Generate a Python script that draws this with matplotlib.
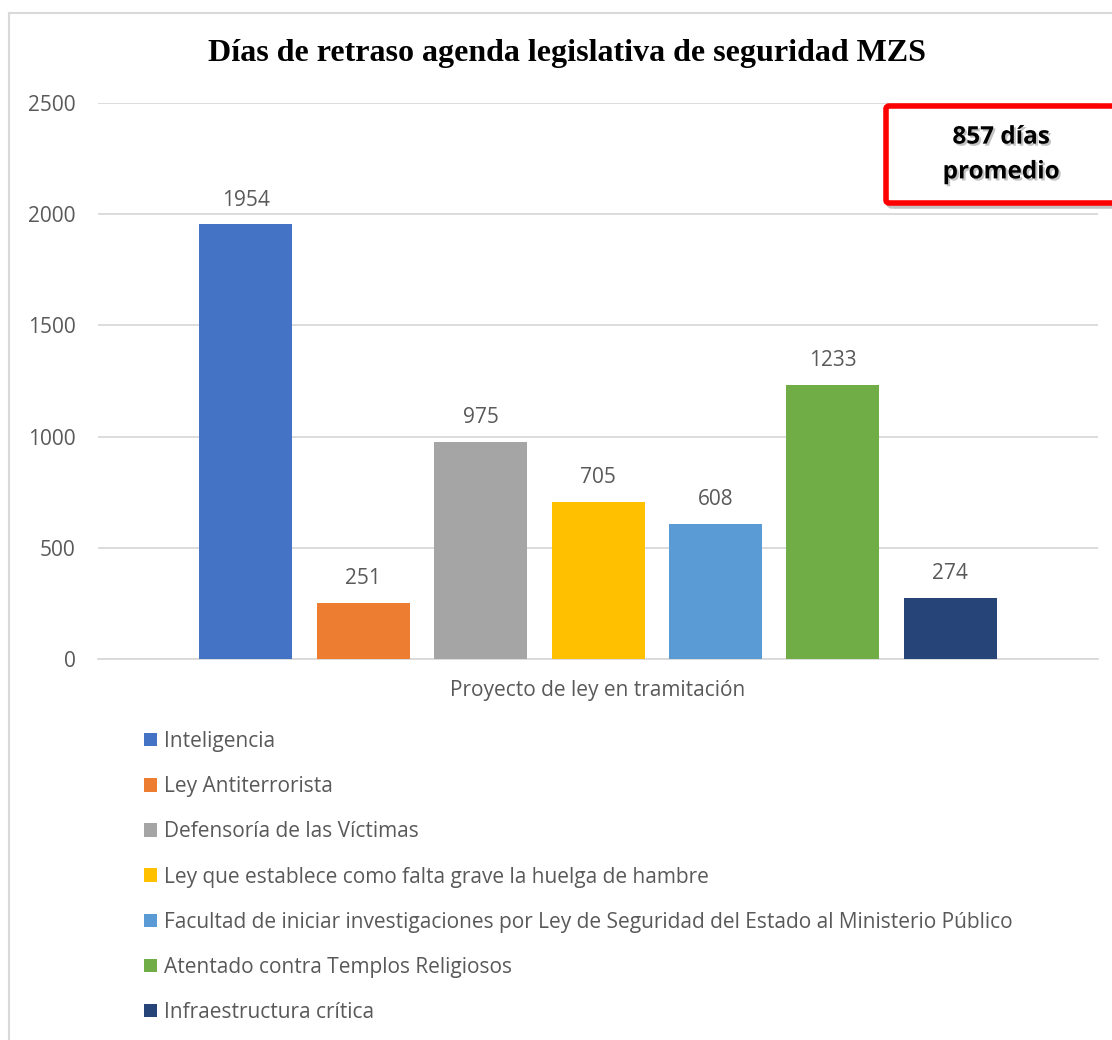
import matplotlib
matplotlib.use("Agg")
import matplotlib.pyplot as plt
from matplotlib.patches import FancyBboxPatch
import matplotlib.patheffects as pe

categories = ["Inteligencia", "Ley Antiterrorista", "Defensoría de las Víctimas",
              "Ley que establece como falta grave la huelga de hambre",
              "Facultad de iniciar investigaciones por Ley de Seguridad del Estado al Ministerio Público",
              "Atentado contra Templos Religiosos", "Infraestructura crítica"]
values = [1954, 251, 975, 705, 608, 1233, 274]
colors = ["#4472C4", "#ED7D31", "#A5A5A5", "#FFC000", "#5B9BD5", "#70AD47", "#264478"]
yticks = [0, 500, 1000, 1500, 2000, 2500]
title = "Días de retraso agenda legislativa de seguridad MZS"
xlabel = "Proyecto de ley en tramitación"
box_text = "857 días\npromedio"

W, H = 1112, 1040
fig = plt.figure(figsize=(W / 100, H / 100), dpi=100)
fig.patch.set_facecolor("white")

FONT = "Open Sans"
FS = 15
TXT = "#595959"
GRID = "#d9d9d9"

# outer chart border
fig.add_artist(plt.Line2D([9 / W, 9 / W], [0, 1 - 13 / H], transform=fig.transFigure, color=GRID, lw=1.5))
fig.add_artist(plt.Line2D([9 / W, 1], [1 - 13 / H, 1 - 13 / H], transform=fig.transFigure, color=GRID, lw=1.5))

ax = fig.add_axes([98 / W, 1 - 659 / H, 1000 / W, 556 / H])
x = list(range(len(values)))
bw = 93 / 117.4
bars = ax.bar(x, values, width=bw, color=colors, label=categories, zorder=3)
half = 1000 / 117.4 / 2
ax.set_xlim(3 - half, 3 + half)
ax.set_ylim(0, 2500)
ax.set_yticks(yticks)
ax.set_yticklabels([str(t) for t in yticks], fontname=FONT, fontsize=FS, color=TXT)
ax.tick_params(axis="y", length=0, pad=16)
ax.set_xticks([])
ax.grid(axis="y", color=GRID, lw=1.3, zorder=0)
for s in ["top", "right", "left"]:
    ax.spines[s].set_visible(False)
ax.spines["bottom"].set_color(GRID)
ax.spines["bottom"].set_linewidth(1.3)

for xi, v in zip(x, values):
    ax.annotate(str(v), (xi, v), xytext=(0, 17.5), textcoords="offset points",
                ha="center", va="center", fontname=FONT, fontsize=FS, color=TXT)

ax.set_xlabel(xlabel, fontname=FONT, fontsize=FS, color=TXT, labelpad=15)

fig.text(567 / W, 1 - 54 / H, title, ha="center", va="center",
         fontname="Liberation Serif", fontweight="bold", fontsize=23, color="black")

leg = fig.legend(handles=bars.patches, labels=categories, loc="upper left",
                 bbox_to_anchor=(144 / W, 1 - 731 / H), bbox_transform=fig.transFigure,
                 frameon=False, prop={"family": FONT, "size": FS}, labelcolor=TXT,
                 handlelength=0.63, handleheight=0.63, handletextpad=0.34,
                 labelspacing=1.16, borderpad=0, borderaxespad=0)

# average box
bx0, by0, bx1, by1 = 886, 106, 1120, 203
shadow = FancyBboxPatch((bx0 / W + 3 / W, 1 - by1 / H - 3 / H), (bx1 - bx0) / W, (by1 - by0) / H,
                        boxstyle="round,pad=0,rounding_size=0.003", transform=fig.transFigure,
                        facecolor="none", edgecolor="#9a9a9a", lw=4, alpha=0.6)
fig.add_artist(shadow)
box = FancyBboxPatch((bx0 / W, 1 - by1 / H), (bx1 - bx0) / W, (by1 - by0) / H,
                     boxstyle="round,pad=0,rounding_size=0.003", transform=fig.transFigure,
                     facecolor="white", edgecolor="#FF0000", lw=4)
fig.add_artist(box)
fig.text(1001 / W, 1 - 155 / H, box_text, ha="center", va="center", fontname=FONT,
         fontweight="bold", fontsize=17.5, color="black", linespacing=1.6,
         path_effects=[pe.withSimplePatchShadow(offset=(1.5, -1.5), shadow_rgbFace="#888888", alpha=0.5)])

fig.savefig("out.png", dpi=100)
